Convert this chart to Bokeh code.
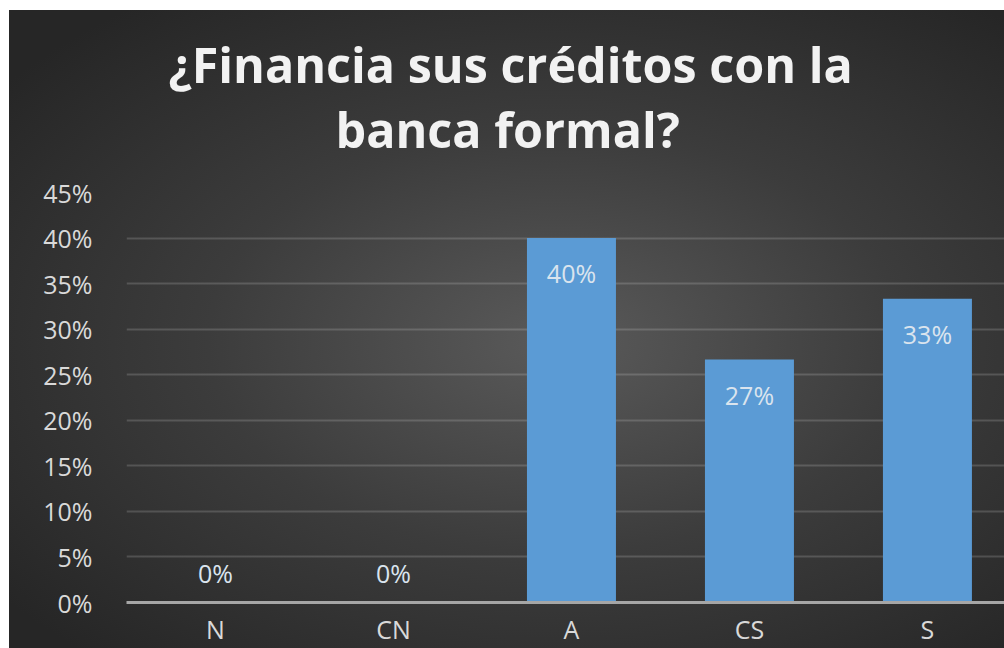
import numpy as np
from bokeh.plotting import figure
from bokeh.models import Range1d, FixedTicker, ColumnDataSource, NumeralTickFormatter, Title
from bokeh.core.properties import value
from bokeh.embed import file_html
from bokeh.resources import INLINE

# ---- data ----
categories = ["N", "CN", "A", "CS", "S"]
shares = [0.0, 0.0, 0.40, 0.2667, 0.3333]
share_labels = ["0%", "0%", "40%", "27%", "33%"]
y_ticks = [0.0, 0.05, 0.10, 0.15, 0.20, 0.25, 0.30, 0.35, 0.40, 0.45]
title_lines = ["¿Financia sus créditos con la", "banca formal?"]

FONT = "Open Sans"

x = (np.arange(len(categories)) + 0.5).tolist()
offsets = [35 if v > 0 else -30 for v in shares]
src = ColumnDataSource(dict(x=x, top=shares, lab=share_labels, off=offsets))

p = figure(
    width=995, height=638,
    x_range=Range1d(0, 4.933), y_range=Range1d(0, 0.45),
    output_backend="svg", toolbar_location=None, title=None,
    min_border_left=117, min_border_right=0, min_border_top=182, min_border_bottom=0,
)
p.margin = (10, 0, 0, 9)
p.styles = {
    "background": "radial-gradient(ellipse at 55% 52%, #5a5a5a 0%, #3c3c3c 45%, #262626 90%)",
}
p.background_fill_alpha = 0
p.border_fill_alpha = 0
p.outline_line_color = None

# titles (closest to the plot added first)
for txt, off, so in [(title_lines[1], 209, 62), (title_lines[0], 42, -68)]:
    p.add_layout(Title(text=txt, align="left", offset=off, standoff=so,
                       text_font=FONT, text_font_style="bold", text_font_size="48.5px",
                       text_line_height=1.0, text_color="#f2f2f2"), "above")

# grid
p.xgrid.grid_line_color = None
p.ygrid.ticker = FixedTicker(ticks=y_ticks)
p.ygrid.grid_line_color = "#ffffff"
p.ygrid.grid_line_alpha = 0.16
p.ygrid.grid_line_width = 2

# bars
p.vbar(x="x", top="top", width=0.5, source=src, fill_color="#5b9bd5", line_color=None)

# data labels
p.text(x="x", y="top", text="lab", y_offset="off", source=src,
       text_align="center", text_baseline="middle",
       text_font=value(FONT), text_font_size="25px", text_color="#dae4ee")

# y axis
ya = p.yaxis[0]
ya.ticker = FixedTicker(ticks=y_ticks)
ya.formatter = NumeralTickFormatter(format="0%")
ya.axis_line_color = None
ya.major_tick_line_color = None
ya.minor_tick_line_color = None
ya.major_label_text_font = FONT
ya.major_label_text_font_size = "25px"
ya.major_label_text_color = "#d9d9d9"
ya.major_label_standoff = 28

# x axis
xa = p.xaxis[0]
xa.ticker = FixedTicker(ticks=x)
xa.major_label_overrides = {xv: c for xv, c in zip(x, categories)}
xa.axis_line_color = "#a6a6a6"
xa.axis_line_width = 3
xa.major_tick_line_color = None
xa.minor_tick_line_color = None
xa.major_label_text_font = FONT
xa.major_label_text_font_size = "25px"
xa.major_label_text_color = "#d9d9d9"
xa.major_label_standoff = 3

open("out.html", "w").write(file_html(p, INLINE))
